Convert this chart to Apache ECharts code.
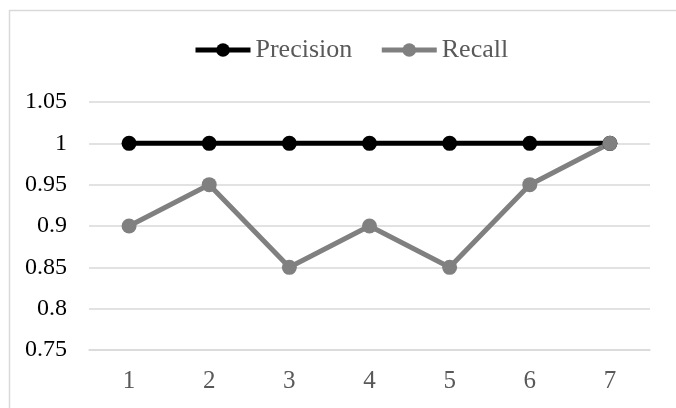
<!DOCTYPE html>
<html>
<head>
<meta charset="utf-8">
<script src="https://cdn.jsdelivr.net/npm/echarts@6/dist/echarts.min.js"></script>
<style>
  html, body { margin: 0; padding: 0; background: #fff; }
  #chart { width: 676px; height: 408px; }
</style>
</head>
<body>
<div id="chart"></div>
<script>
// Run index on the x axis and the two scores measured at each run
const categories = ['1', '2', '3', '4', '5', '6', '7'];
const precision = [1, 1, 1, 1, 1, 1, 1];
const recall = [0.9, 0.95, 0.85, 0.9, 0.85, 0.95, 1];
const yMin = 0.75;
const yMax = 1.05;
const yStep = 0.05;

const serif = '"Liberation Serif", "Times New Roman", serif';

const chart = echarts.init(document.getElementById('chart'), null, { renderer: 'canvas' });

chart.setOption({
  backgroundColor: '#ffffff',
  animation: false,
  graphic: [{
    type: 'rect',
    shape: { x: 9.5, y: 10.5, width: 720, height: 440 },
    style: { fill: 'none', stroke: '#d9d9d9', lineWidth: 1.5 },
    silent: true,
    z: -10
  }],
  legend: {
    top: 37,
    left: 193,
    padding: 0,
    itemWidth: 55,
    itemHeight: 17,
    itemGap: 27,
    lineStyle: { width: 5 },
    textStyle: { fontFamily: serif, fontSize: 26, color: '#595959' },
    data: ['Precision', 'Recall']
  },
  grid: { left: 89, right: 26, top: 102, bottom: 58, containLabel: false },
  xAxis: {
    type: 'category',
    data: categories,
    boundaryGap: true,
    axisLine: { show: true, lineStyle: { color: '#d9d9d9', width: 1.5 } },
    axisTick: { show: false },
    axisLabel: { fontFamily: serif, fontSize: 25, color: '#595959', margin: 19 }
  },
  yAxis: {
    type: 'value',
    min: yMin,
    max: yMax,
    interval: yStep,
    axisLine: { show: false },
    axisTick: { show: false },
    splitLine: { lineStyle: { color: '#d9d9d9', width: 1.5 } },
    axisLabel: {
      fontFamily: serif, fontSize: 24, color: '#000000', margin: 22,
      formatter: v => String(+v.toFixed(2))
    }
  },
  series: [
    {
      name: 'Precision',
      type: 'line',
      data: precision,
      color: '#000000',
      symbol: 'circle',
      symbolSize: 15,
      lineStyle: { width: 5, color: '#000000' },
      itemStyle: { color: '#000000' }
    },
    {
      name: 'Recall',
      type: 'line',
      data: recall,
      color: '#808080',
      symbol: 'circle',
      symbolSize: 15,
      lineStyle: { width: 5, color: '#808080' },
      itemStyle: { color: '#808080' }
    }
  ]
});
</script>
</body>
</html>
